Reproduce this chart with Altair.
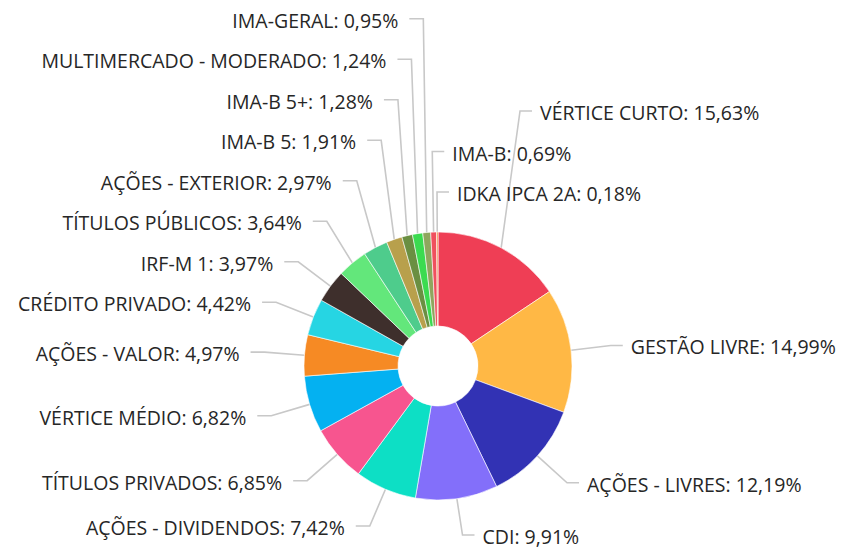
import math
import altair as alt
import pandas as pd

# ---- data -------------------------------------------------------------
names = [
    "VÉRTICE CURTO", "GESTÃO LIVRE", "AÇÕES - LIVRES", "CDI",
    "AÇÕES - DIVIDENDOS", "TÍTULOS PRIVADOS", "VÉRTICE MÉDIO",
    "AÇÕES - VALOR", "CRÉDITO PRIVADO", "IRF-M 1", "TÍTULOS PÚBLICOS",
    "AÇÕES - EXTERIOR", "IMA-B 5", "IMA-B 5+", "MULTIMERCADO - MODERADO",
    "IMA-GERAL", "IMA-B", "IDKA IPCA 2A",
]
values = [15.63, 14.99, 12.19, 9.91, 7.42, 6.85, 6.82, 4.97, 4.42, 3.97,
          3.64, 2.97, 1.91, 1.28, 1.24, 0.95, 0.69, 0.18]
colors = [
    "#EF3E55", "#FFB845", "#3232B4", "#836FFA", "#0DDFC5", "#F7558F",
    "#04B1F1", "#F68A24", "#26D5E3", "#3E2F2C", "#63E77B", "#4ECC8C",
    "#B8A04C", "#6A8F42", "#3BDB50", "#8FA65E", "#F0505E", "#F5813A",
]

# ---- layout constants ------------------------------------------------
W, H = 830, 541
CX, CY = 430, 358
R_OUT, R_IN = 134, 40
L1, STEP = 40, 40.5
L2 = {"right": 12, "left": 14}
GAP = {"right": 8, "left": 11}
Y_MAX = H - 14

labels = [f"{n}: {v:.2f}".replace(".", ",") + "%" for n, v in zip(names, values)]
total = sum(values)

info = []
cum = 0.0
for i, v in enumerate(values):
    a0 = cum / total * 2 * math.pi
    cum += v
    a1 = cum / total * 2 * math.pi
    mid = (a0 + a1) / 2
    sx, sy = math.sin(mid), -math.cos(mid)
    info.append(dict(
        i=i, mid=mid,
        px=CX + R_OUT * sx, py=CY + R_OUT * sy,
        ex=CX + (R_OUT + L1) * sx, ey=CY + (R_OUT + L1) * sy,
        side="right" if sx > -0.05 else "left",
    ))

right = [d for d in info if d["side"] == "right"]
normal_r = sorted([d for d in right if d["mid"] < math.pi], key=lambda d: d["mid"])
wrapped_r = sorted([d for d in right if d["mid"] >= math.pi], key=lambda d: d["mid"])
right_order = normal_r[:1] + wrapped_r + normal_r[1:]
left_order = sorted([d for d in info if d["side"] == "left"], key=lambda d: d["ey"])


def stack(order):
    ys = [d["ey"] for d in order]
    ys[-1] = min(ys[-1], Y_MAX)
    for j in range(len(ys) - 2, -1, -1):
        ys[j] = min(ys[j], ys[j + 1] - STEP)
    for d, y in zip(order, ys):
        d["ly"] = y


stack(right_order)
stack(left_order)

line_rows, text_rows = [], []
for d in info:
    s = d["side"]
    sgn = 1 if s == "right" else -1
    pts = [(d["px"], d["py"]), (d["ex"], d["ly"]), (d["ex"] + sgn * L2[s], d["ly"])]
    for k, (x, y) in enumerate(pts):
        line_rows.append(dict(name=names[d["i"]], k=k, x=x, y=y))
    text_rows.append(dict(label=labels[d["i"]], side=s,
                          x=d["ex"] + sgn * (L2[s] + GAP[s]), y=d["ly"]))

pie_df = pd.DataFrame({"name": names, "value": values, "idx": range(len(names))})
line_df = pd.DataFrame(line_rows)
text_df = pd.DataFrame(text_rows)

xs = alt.Scale(domain=[0, W], range=[0, W], nice=False, zero=False)
ys = alt.Scale(domain=[0, H], range=[0, H], nice=False, zero=False)

pie = alt.Chart(pie_df).mark_arc(
    outerRadius=R_OUT, innerRadius=R_IN, stroke="white", strokeWidth=0.6
).encode(
    theta=alt.Theta("value:Q", stack=True),
    order=alt.Order("idx:Q", sort="ascending"),
    color=alt.Color("name:N", scale=alt.Scale(domain=names, range=colors), legend=None),
    x=alt.value(CX),
    y=alt.value(CY),
)

lines = alt.Chart(line_df).mark_line(color="#c8c8c8", strokeWidth=1.6).encode(
    x=alt.X("x:Q", scale=xs, axis=None),
    y=alt.Y("y:Q", scale=ys, axis=None),
    detail="name:N",
    order="k:Q",
)

def text_layer(side, align):
    return alt.Chart(text_df[text_df.side == side]).mark_text(
        align=align, baseline="middle", font="Open Sans", fontSize=19.5,
        color="#262626", dy=3,
    ).encode(
        x=alt.X("x:Q", scale=xs, axis=None),
        y=alt.Y("y:Q", scale=ys, axis=None),
        text="label:N",
    )

chart = alt.layer(
    lines, pie, text_layer("left", "right"), text_layer("right", "left")
).properties(
    width=W, height=H, padding=0, autosize=alt.AutoSizeParams(type="none")
).configure_view(stroke=None)

chart.save("out.html", embed_options={"renderer": "svg", "actions": False})
